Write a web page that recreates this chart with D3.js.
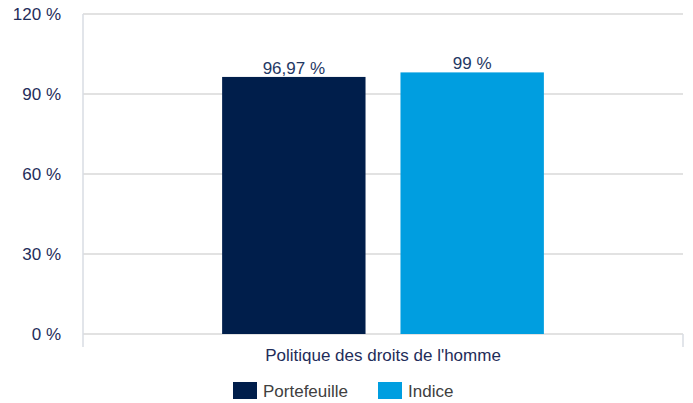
<!DOCTYPE html>
<html>
<head>
<meta charset="utf-8">
<script src="https://cdn.jsdelivr.net/npm/d3@7"></script>
<style>
  body { margin: 0; background: #fff; }
  text { font-family: "Liberation Sans", Arial, sans-serif; }
</style>
</head>
<body>
<div id="chart"></div>
<script>
// data
var categories = ["Politique des droits de l'homme"];
var series = ["Portefeuille", "Indice"];
var values = [96.4, 98.1];
var valueLabels = ["96,97 %", "99 %"];
var yTicks = [0, 30, 60, 90, 120];

var colors = d3.scaleOrdinal().domain(series).range(["#001e4b", "#009ee0"]);

const width = 693, height = 403;
const margin = {top: 14, right: 10, bottom: 69, left: 83};
const plotW = 600;
const plotH = height - margin.top - margin.bottom;

var svg = d3.select("#chart").append("svg")
    .attr("width", width)
    .attr("height", height);

var g = svg.append("g")
    .attr("transform", `translate(${margin.left},${margin.top})`);

var x0 = d3.scaleBand().domain(categories).range([0, plotW]);
var x1 = d3.scaleBand().domain(series).range([0, x0.bandwidth()])
    .paddingInner(0.196).paddingOuter(0.78);
var y = d3.scaleLinear().domain([0, 120]).range([plotH, 0]);

// gridlines
g.selectAll(".grid")
  .data(yTicks)
  .enter().append("line")
  .attr("x1", 0).attr("x2", plotW)
  .attr("y1", function(d) { return y(d); })
  .attr("y2", function(d) { return y(d); })
  .attr("stroke", "#d9d9d9")
  .attr("stroke-width", 1.5);

// left axis line and category ticks
g.append("line")
  .attr("x1", 0).attr("x2", 0)
  .attr("y1", 0).attr("y2", plotH + 13)
  .attr("stroke", "#d9dde3").attr("stroke-width", 1.5);
g.append("line")
  .attr("x1", plotW).attr("x2", plotW)
  .attr("y1", plotH).attr("y2", plotH + 13)
  .attr("stroke", "#d9dde3").attr("stroke-width", 1.5);

// y tick labels
g.selectAll(".ylab")
  .data(yTicks)
  .enter().append("text")
  .attr("x", -22)
  .attr("y", function(d) { return y(d); })
  .attr("dy", "0.35em")
  .attr("text-anchor", "end")
  .attr("fill", "#1f2d5a")
  .style("font-size", "17px")
  .text(function(d) { return d + " %"; });

// bars
var groups = g.selectAll(".cat")
  .data(categories)
  .enter().append("g")
  .attr("transform", function(d) { return `translate(${x0(d)},0)`; });

groups.selectAll("rect")
  .data(series)
  .enter().append("rect")
  .attr("x", function(d) { return x1(d); })
  .attr("width", x1.bandwidth())
  .attr("y", function(d, i) { return y(values[i]); })
  .attr("height", function(d, i) { return plotH - y(values[i]); })
  .attr("fill", function(d) { return colors(d); });

groups.selectAll(".vlab")
  .data(series)
  .enter().append("text")
  .attr("x", function(d) { return x1(d) + x1.bandwidth() / 2; })
  .attr("y", function(d, i) { return y(values[i]) - 3; })
  .attr("text-anchor", "middle")
  .attr("fill", "#1f3864")
  .style("font-size", "17px")
  .text(function(d, i) { return valueLabels[i]; });

// category label
g.selectAll(".clab")
  .data(categories)
  .enter().append("text")
  .attr("x", function(d) { return x0(d) + x0.bandwidth() / 2; })
  .attr("y", plotH + 27)
  .attr("text-anchor", "middle")
  .attr("fill", "#1f2d5a")
  .style("font-size", "17px")
  .text(function(d) { return d; });

// legend
var legendX = [233, 378];
var legend = svg.selectAll(".leg")
  .data(series)
  .enter().append("g")
  .attr("transform", function(d, i) { return `translate(${legendX[i]},382)`; });
legend.append("rect")
  .attr("width", 24).attr("height", 17)
  .attr("fill", function(d) { return colors(d); });
legend.append("text")
  .attr("x", 30).attr("y", 9)
  .attr("dy", "0.35em")
  .attr("fill", "#404040")
  .style("font-size", "17px")
  .text(function(d) { return d; });
</script>
</body>
</html>
